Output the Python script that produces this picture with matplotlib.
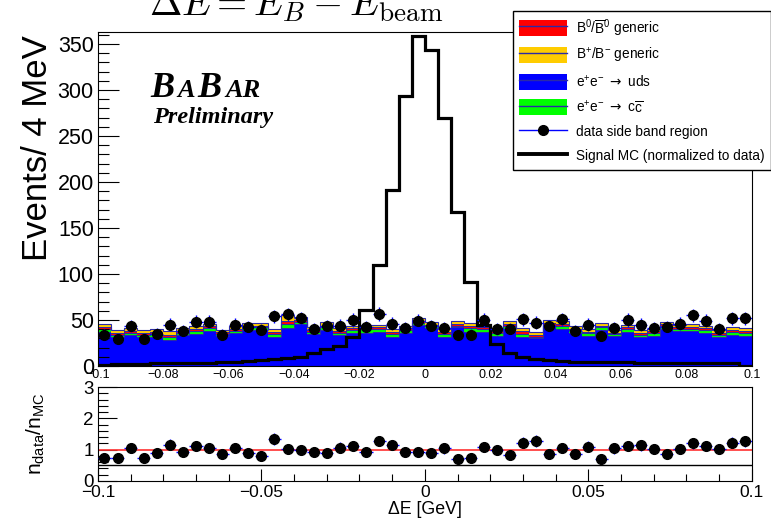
import numpy as np
import matplotlib.pyplot as plt
from matplotlib.patches import Patch
from matplotlib.lines import Line2D
from matplotlib.ticker import MultipleLocator, FuncFormatter

plt.rcParams['font.family'] = ['Liberation Sans', 'DejaVu Sans']

# binning: 50 bins of 4 MeV between -0.1 and 0.1 GeV
de_lo, de_hi, n_bins = -0.1, 0.1, 50

# background MC stack (events / bin)
uds = [37, 32, 34, 31, 32, 28, 34, 35, 38, 32.5, 36, 39, 39, 32, 41, 46, 35, 39, 34, 36,
       36, 37, 32, 36, 45, 41, 32, 42, 37.5, 36.5, 33, 40.5, 32, 30, 42, 40, 35.7, 32.5, 39, 32.4,
       37, 31, 32.6, 40.3, 38, 37.6, 36, 31, 34, 32.8]
ccbar = [3, 2, 2, 3, 3, 4, 2, 3, 3, 2, 2, 3, 3, 3, 5, 2, 2, 3, 2, 3,
         4, 3, 3, 3, 2, 2, 3, 2, 4, 4, 3, 3, 3, 2, 3, 4, 3, 3, 3, 2,
         3, 3, 3, 3, 2, 3, 3, 3, 3, 3]
b0 = [2, 2, 2, 2, 2, 2, 2, 2, 2, 2, 2, 2, 2, 2, 3, 2, 2, 2, 2, 2,
      2, 2, 2, 2, 2, 2, 2, 2, 2, 2, 2, 2, 3, 2, 2, 2, 2, 2, 2, 2,
      2, 2, 2, 2, 2, 2, 2, 2, 2, 2]
bplus = [4, 3, 3, 3, 3, 4, 3, 3, 3, 3, 3, 3, 3, 3, 6, 3, 3, 4, 3, 3,
         3, 3, 3, 3, 3, 3, 3, 3, 3, 3, 3, 3, 3, 3, 3, 3, 3, 3, 3, 3,
         3, 3, 3, 3, 3, 3, 3, 3, 3, 3]

# data side band
data = [34, 29, 43, 29, 35, 45, 38, 48, 48, 34, 45, 42, 39, 54, 56, 52, 40, 43, 44, 50,
        42, 57, 46, 41, 49, 43, 41, 34, 34, 50, 40, 40, 51, 47, 43, 51, 38, 45, 33, 41,
        50, 45, 41, 42, 46, 55, 49, 40, 52, 52]

# signal MC normalised to data
signal = [1, 2, 2, 2.5, 3, 3, 3, 3, 3.5, 4, 4.5, 5, 6.5, 7.5, 9, 10, 14, 18, 22, 31,
          61, 110, 191, 293, 359, 343, 270, 167, 91, 45, 23.5, 14, 10, 8, 6.5, 5, 4.5, 4, 4, 4,
          4, 3.5, 3, 3, 3, 3, 3, 3, 3, 0.5]

# data / MC ratio
ratio = [0.75, 0.75, 1.05, 0.75, 0.89, 1.16, 0.93, 1.12, 1.04, 0.87, 1.05, 0.89, 0.80, 1.35, 1.01,
         0.99, 0.94, 0.91, 1.07, 1.12, 0.93, 1.28, 1.15, 0.93, 0.93, 0.89, 1.04, 0.70, 0.74, 1.09,
         0.98, 0.82, 1.23, 1.27, 0.86, 1.04, 0.87, 1.10, 0.70, 1.04, 1.11, 1.14, 1.01, 0.87, 1.01,
         1.20, 1.12, 1.01, 1.23, 1.27]

edges = np.linspace(de_lo, de_hi, n_bins + 1)
centers = 0.5 * (edges[:-1] + edges[1:])
half_w = 0.5 * (edges[1] - edges[0])
data = np.array(data, dtype=float)
ratio = np.array(ratio)

edge_col = '#2a2aa8'
fmt_g = FuncFormatter(lambda v, p: ('%g' % round(v, 6)).replace('-', '\u2212') if abs(v) > 1e-9 else '0')

fig = plt.figure(figsize=(7.71, 5.21), dpi=100)

# ---- main panel
ax = fig.add_axes([0.127, 0.2975, 0.848, 0.641])
bottom = np.zeros(n_bins)
for vals, col in [(uds, '#0000ff'), (ccbar, '#00ff00'), (b0, '#ff0000'), (bplus, '#ffcc00')]:
    top = bottom + np.array(vals)
    ax.stairs(top, edges, baseline=bottom, fill=True, color=col, lw=0)
    ax.stairs(top, edges, baseline=None, color=edge_col, lw=0.8)
    bottom = top

ax.stairs(signal, edges, color='k', lw=2.3)
ax.errorbar(centers, data, yerr=np.sqrt(data), xerr=half_w, fmt='o', color='k',
            ecolor='#0000ff', elinewidth=1, ms=7, capsize=0)

ax.set_xlim(de_lo, de_hi)
ax.set_ylim(0, 363)
ax.yaxis.set_major_locator(MultipleLocator(50))
ax.yaxis.set_minor_locator(MultipleLocator(10))
ax.xaxis.set_major_locator(MultipleLocator(0.02))
ax.xaxis.set_major_formatter(fmt_g)
ax.tick_params(axis='y', which='major', direction='in', length=15, width=0.8, labelsize=15.5, pad=3)
ax.tick_params(axis='y', which='minor', direction='in', length=8, width=0.8)
ax.tick_params(axis='x', which='both', length=0, labelsize=9, pad=2)

fig.text(38 / 771, 1 - 35 / 521, 'Events/ 4 MeV', rotation=90, ha='center', va='top', fontsize=25)

fig.text(296 / 771, 1 - 15 / 521, r'$\Delta E = E_B - E_{\rm beam}$', ha='center', va='baseline',
         fontsize=28, math_fontfamily='cm')

# BaBar logo
logo = dict(family='Liberation Serif', weight='bold', style='italic', va='baseline')
fig.text(150 / 771, 1 - 97 / 521, 'B', fontsize=26, **logo)
fig.text(177 / 771, 1 - 97 / 521, 'A', fontsize=19, **logo)
fig.text(197 / 771, 1 - 97 / 521, 'B', fontsize=26, **logo)
fig.text(225 / 771, 1 - 97 / 521, 'AR', fontsize=19, **logo)
fig.text(153 / 771, 1 - 123 / 521, 'Preliminary', fontsize=17.5, **logo)

# legend
handles = [
    (Patch(facecolor='#ff0000', lw=0), Line2D([], [], color=edge_col, lw=1)),
    (Patch(facecolor='#ffcc00', lw=0), Line2D([], [], color=edge_col, lw=1)),
    (Patch(facecolor='#0000ff', lw=0), Line2D([], [], color=edge_col, lw=1)),
    (Patch(facecolor='#00ff00', lw=0), Line2D([], [], color=edge_col, lw=1)),
    Line2D([], [], color='#0000ff', lw=1, marker='o', mfc='k', mec='k', ms=7),
    Line2D([], [], color='k', lw=2.8),
]
labels = [
    r'B$^{\mathregular{0}}$/$\overline{\mathregular{B}}^{\mathregular{0}}$ generic',
    r'B$^{\mathregular{+}}$/B$^{\mathregular{-}}$ generic',
    r'e$^{\mathregular{+}}$e$^{\mathregular{-}}$ $\rightarrow$ uds',
    r'e$^{\mathregular{+}}$e$^{\mathregular{-}}$ $\rightarrow$ c$\overline{\mathregular{c}}$',
    'data side band region',
    'Signal MC (normalized to data)',
]
leg = fig.legend(handles, labels, loc='upper left', bbox_to_anchor=(513 / 771, 1 - 11 / 521),
                 borderaxespad=0, fontsize=9.8, handlelength=3.5, handleheight=1.45,
                 labelspacing=0.6, handletextpad=0.7, borderpad=0.45, fancybox=False,
                 edgecolor='k', framealpha=1)
leg.get_frame().set_linewidth(1)

# ---- ratio panel
rax = fig.add_axes([0.127, 0.0768, 0.848, 0.180])
rax.axhline(1, color='#ff3030', lw=1.2)
rax.axhline(0.5, color='k', lw=1)
rax.errorbar(centers, ratio, yerr=ratio / np.sqrt(data), xerr=half_w, fmt='o', color='k',
             ecolor='#0000ff', elinewidth=1, ms=7, capsize=0, zorder=3)
rax.set_xlim(de_lo, de_hi)
rax.set_ylim(0, 3)
rax.yaxis.set_major_locator(MultipleLocator(1))
rax.yaxis.set_minor_locator(MultipleLocator(0.2))
rax.xaxis.set_major_locator(MultipleLocator(0.05))
rax.xaxis.set_minor_locator(MultipleLocator(0.01))
rax.xaxis.set_major_formatter(fmt_g)
rax.tick_params(axis='y', which='major', direction='in', length=14, width=0.8, labelsize=13.5, pad=3)
rax.tick_params(axis='y', which='minor', direction='in', length=7, width=0.8)
rax.tick_params(axis='x', which='major', direction='in', length=9, width=0.8, labelsize=12.5, pad=3)
rax.tick_params(axis='x', which='minor', direction='in', length=5, width=0.8)

fig.text(36 / 771, 1 - 434 / 521, r'n$_{\mathregular{data}}$/n$_{\mathregular{MC}}$', rotation=90,
         ha='center', va='center', fontsize=15)
fig.text(425 / 771, 1 - 510 / 521, '\u0394E [GeV]', ha='center', va='center', fontsize=12.8)

fig.savefig('out.png', dpi=100)
